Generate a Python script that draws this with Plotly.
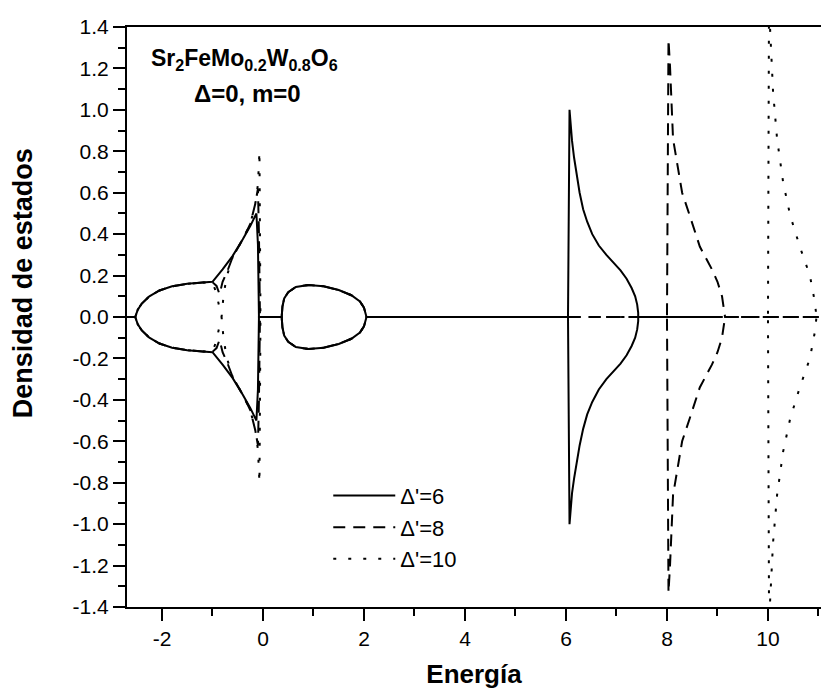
import plotly.graph_objects as go

# ---------------- data ----------------
# Delta' = 6 (solid)
E6 = [-2.70, -2.53, -2.48, -2.40, -2.25, -2.05, -1.80, -1.50, -1.20, -1.00, -0.80, -0.60, -0.40,
      -0.25, -0.13, -0.10, -0.08, 0.37, 0.385, 0.42, 0.50, 0.65, 0.90, 1.20, 1.50, 1.75, 1.92,
      2.00, 2.05, 6.04, 6.07, 6.09, 6.12, 6.16, 6.21, 6.27, 6.34, 6.42, 6.52, 6.65, 6.80, 6.95,
      7.08, 7.20, 7.30, 7.37, 7.41, 7.43, 7.43, 9.10]
up6 = [0, 0, 0.035, 0.065, 0.10, 0.128, 0.148, 0.160, 0.166, 0.170, 0.230, 0.295, 0.375,
       0.440, 0.500, 0.350, 0, 0, 0.05, 0.09, 0.12, 0.145, 0.155, 0.148, 0.130, 0.105, 0.075,
       0.045, 0, 0, 1.00, 0.93, 0.85, 0.77, 0.69, 0.60, 0.52, 0.46, 0.40, 0.345, 0.30, 0.26,
       0.225, 0.185, 0.14, 0.10, 0.06, 0.02, 0, 0]
dn6 = [0, 0, -0.035, -0.065, -0.10, -0.128, -0.148, -0.160, -0.166, -0.170, -0.230, -0.295, -0.375,
       -0.440, -0.500, -0.350, 0, 0, -0.05, -0.09, -0.12, -0.145, -0.155, -0.148, -0.130, -0.105, -0.075,
       -0.045, 0, 0, -1.00, -0.93, -0.85, -0.78, -0.70, -0.62, -0.54, -0.47, -0.41, -0.35, -0.30, -0.26,
       -0.225, -0.185, -0.14, -0.10, -0.06, -0.02, 0, 0]

# Delta' = 8 (dashed)
E8 = [-2.70, -2.53, -2.48, -2.40, -2.25, -2.05, -1.80, -1.50, -1.20, -1.00, -0.92, -0.86, -0.80,
      -0.70, -0.60, -0.40, -0.25, -0.15, -0.10, -0.08, -0.06, 0.37, 0.385, 0.42, 0.50, 0.65, 0.90,
      1.20, 1.50, 1.75, 1.92, 2.00, 2.05, 8.00, 8.03, 8.06, 8.12, 8.20, 8.30, 8.45, 8.65, 8.89,
      9.00, 9.09, 9.15, 11.10]
up8 = [0, 0, 0.035, 0.065, 0.10, 0.128, 0.148, 0.160, 0.166, 0.168, 0.150, 0.110, 0.170,
       0.225, 0.290, 0.375, 0.450, 0.550, 0.620, 0.400, 0, 0, 0.05, 0.09, 0.12, 0.145, 0.155,
       0.148, 0.130, 0.105, 0.075, 0.045, 0, 0, 1.34, 1.21, 0.86, 0.74, 0.60, 0.49, 0.34, 0.23,
       0.17, 0.10, 0, 0]
dn8 = [0, 0, -0.035, -0.065, -0.10, -0.128, -0.148, -0.160, -0.166, -0.168, -0.150, -0.110, -0.170,
       -0.225, -0.290, -0.375, -0.450, -0.550, -0.620, -0.400, 0, 0, -0.05, -0.09, -0.12, -0.145, -0.155,
       -0.148, -0.130, -0.105, -0.075, -0.045, 0, 0, -1.33, -1.20, -0.86, -0.74, -0.60, -0.49, -0.34, -0.23,
       -0.17, -0.10, 0, 0]

# Delta' = 10 (dotted)
E10 = [-2.70, -2.53, -2.48, -2.40, -2.25, -2.05, -1.80, -1.50, -1.20, -1.00, -0.93, -0.87, -0.82,
       -0.79, -0.75, -0.70, -0.60, -0.40, -0.25, -0.15, -0.10, -0.07, -0.06, -0.05, 0.37, 0.385,
       0.42, 0.50, 0.65, 0.90, 1.20, 1.50, 1.75, 1.92, 2.00, 2.05, 10.00, 10.02, 10.04, 10.10,
       10.18, 10.30, 10.44, 10.63, 10.83, 10.93, 10.96, 11.10]
up10 = [0, 0, 0.035, 0.065, 0.10, 0.128, 0.148, 0.160, 0.166, 0.168, 0.120, 0.060, 0.0,
        0.080, 0.150, 0.210, 0.290, 0.375, 0.450, 0.550, 0.640, 0.800, 0.400, 0, 0, 0.05,
        0.09, 0.12, 0.145, 0.155, 0.148, 0.130, 0.105, 0.075, 0.045, 0, 0, 1.50, 1.40, 1.09,
        0.86, 0.65, 0.49, 0.34, 0.20, 0.07, 0, 0]
dn10 = [0, 0, -0.035, -0.065, -0.10, -0.128, -0.148, -0.160, -0.166, -0.168, -0.120, -0.060, 0.0,
        -0.080, -0.150, -0.210, -0.290, -0.375, -0.450, -0.550, -0.640, -0.800, -0.400, 0, 0, -0.05,
        -0.09, -0.12, -0.145, -0.155, -0.148, -0.130, -0.105, -0.075, -0.045, 0, 0, -1.38, -1.38, -1.09,
        -0.86, -0.65, -0.49, -0.34, -0.20, -0.07, 0, 0]

series_names = ["\u0394'=6", "\u0394'=8", "\u0394'=10"]

x_tickvals = [-2, 0, 2, 4, 6, 8, 10]
x_ticktext = ["-2", "0", "2", "4", "6", "8", "10"]
y_tickvals = [-1.4, -1.2, -1.0, -0.8, -0.6, -0.4, -0.2, 0.0, 0.2, 0.4, 0.6, 0.8, 1.0, 1.2, 1.4]
y_ticktext = ["-1.4", "-1.2", "-1.0", "-0.8", "-0.6", "-0.4", "-0.2", "0.0",
              "0.2", "0.4", "0.6", "0.8", "1.0", "1.2", "1.4"]

# ---------------- figure ----------------
fig = go.Figure()
styles = ["solid", "12px,8px", "3px,12px"]
datasets = [(E6, up6, dn6), (E8, up8, dn8), (E10, up10, dn10)]
for (E, up, dn), name, dash in zip(datasets, series_names, styles):
    fig.add_trace(go.Scatter(
        x=E + [None] + E, y=up + [None] + dn, mode="lines", name=name,
        legendgroup=name, connectgaps=False,
        line=dict(color="black", width=2, dash=dash),
    ))

font_family = "Liberation Sans, Arial, sans-serif"

fig.update_layout(
    width=821, height=694,
    margin=dict(l=127, r=0, t=27, b=87, autoexpand=False),
    paper_bgcolor="white", plot_bgcolor="white",
    font=dict(family=font_family, color="black", size=21),
    showlegend=True,
    legend=dict(x=0.29, y=0.228, xanchor="left", yanchor="top",
                font=dict(size=22, family=font_family), itemwidth=62,
                tracegroupgap=0, bgcolor="rgba(0,0,0,0)"),
    xaxis=dict(range=[-2.693, 11.05], showline=True, linecolor="black", linewidth=2,
               mirror=True, ticks="outside", ticklen=12, tickwidth=2, tickcolor="black",
               tickvals=x_tickvals, ticktext=x_ticktext, showgrid=False, zeroline=False,
               tickfont=dict(size=21),
               minor=dict(dtick=1, tick0=-1, ticks="outside", ticklen=7, tickwidth=2,
                          tickcolor="black", showgrid=False),
               title=dict(text="<b>Energía</b>", font=dict(size=26), standoff=16),
               automargin=False),
    yaxis=dict(range=[-1.4, 1.4], showline=True, linecolor="black", linewidth=2,
               mirror=False, ticks="outside", ticklen=12, tickwidth=2, tickcolor="black",
               tickvals=y_tickvals, ticktext=y_ticktext, showgrid=False, zeroline=False,
               tickfont=dict(size=21),
               minor=dict(dtick=0.1, tick0=0, ticks="outside", ticklen=7, tickwidth=2,
                          tickcolor="black", showgrid=False),
               automargin=False),
)

# y-axis title (placed as in the reference, above the axis centre)
fig.add_annotation(xref="paper", yref="paper", x=-0.150, y=0.558, xanchor="center", yanchor="middle",
                   showarrow=False, textangle=-90, font=dict(size=27, family=font_family),
                   text="<b>Densidad de estados</b>")

fig.add_annotation(xref="paper", yref="paper", x=0.169, y=0.944, xanchor="center", yanchor="middle",
                   showarrow=False, font=dict(size=23, family=font_family),
                   text="<b>Sr<sub>2</sub>FeMo<sub>0.2</sub>W<sub>0.8</sub>O<sub>6</sub></b>")
fig.add_annotation(xref="paper", yref="paper", x=0.173, y=0.885, xanchor="center", yanchor="middle",
                   showarrow=False, font=dict(size=24, family=font_family),
                   text="<b>\u0394=0, m=0</b>")

fig.write_html(
    "out.html",
    config={"displayModeBar": False},
    post_script="document.documentElement.style.margin='0';document.body.style.margin='0';"
                "document.body.style.overflow='hidden';document.documentElement.style.overflow='hidden';",
)
